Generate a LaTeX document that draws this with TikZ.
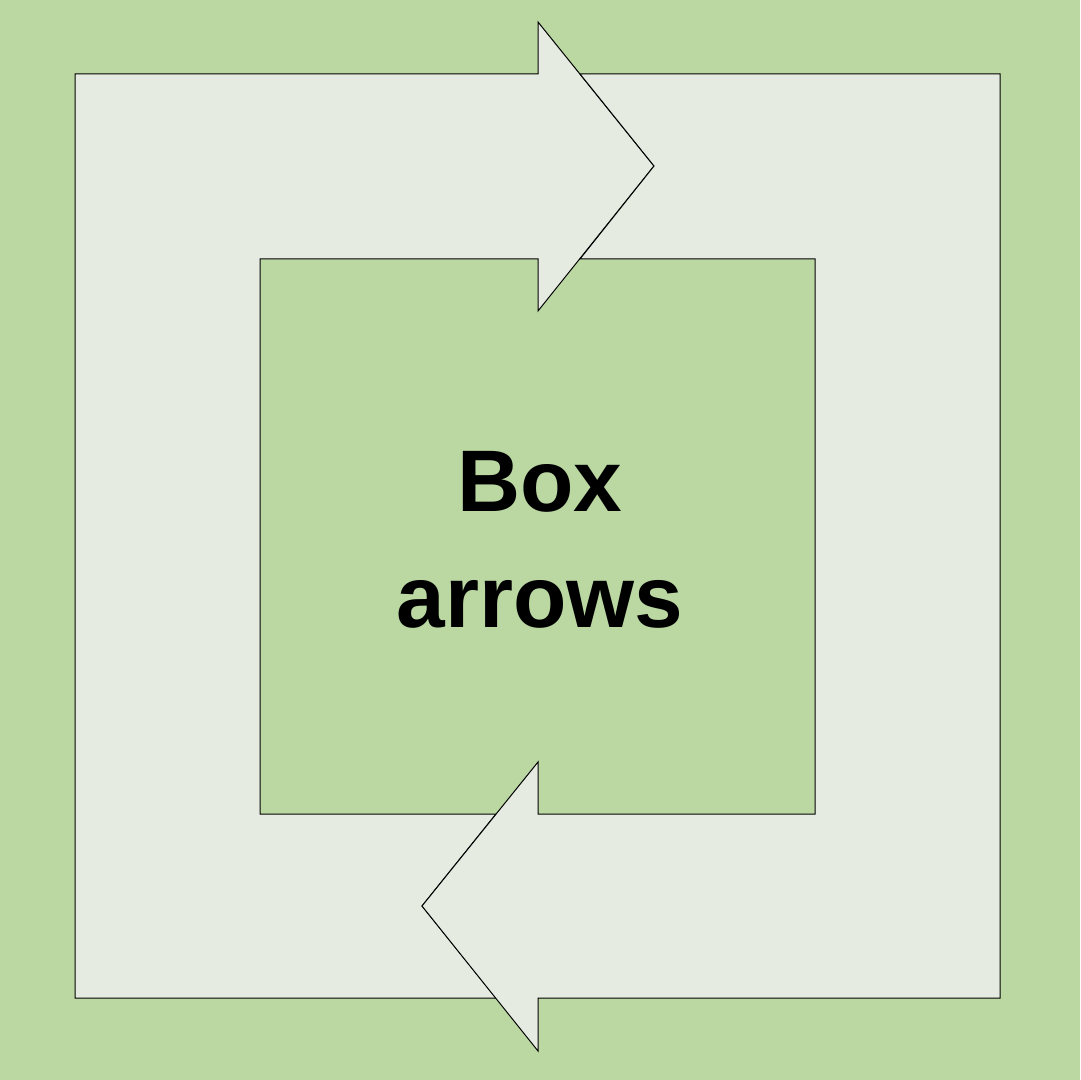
\documentclass[tikz,border=0pt]{standalone}
\usepackage{fontspec}
\setmainfont{Liberation Sans}
\definecolor{bggreen}{HTML}{BBD8A3}
\definecolor{paleband}{HTML}{E5EBE0}
\begin{document}
\begin{tikzpicture}[x=0.5pt, y=-0.5pt, line join=miter,
    band/.style={draw=black, line width=0.5pt, fill=paleband}]
    \fill [bggreen] (0,0) rectangle (1080,1080);
    \useasboundingbox (0,0) rectangle (1080,1080);
    % left and top band, head pointing right
    \draw [band] (75,74) -- (538,74) -- (538,22) -- (654,166) -- (538,311)
        -- (538,259) -- (260,259) -- (260,814) -- (496,814) -- (422,906)
        -- (496,998) -- (75,998) -- cycle;
    % right and bottom band, head pointing left
    \draw [band] (580,74) -- (1000,74) -- (1000,998) -- (538,998)
        -- (538,1051) -- (422,906) -- (538,762) -- (538,814) -- (815,814)
        -- (815,259) -- (580,259) -- (654,166) -- cycle;
    \node [align=center, font=\fontsize{43.7}{58}\selectfont\bfseries,
        inner sep=0pt] (title) at (540,540) {Box\\arrows};
\end{tikzpicture}
\end{document}
